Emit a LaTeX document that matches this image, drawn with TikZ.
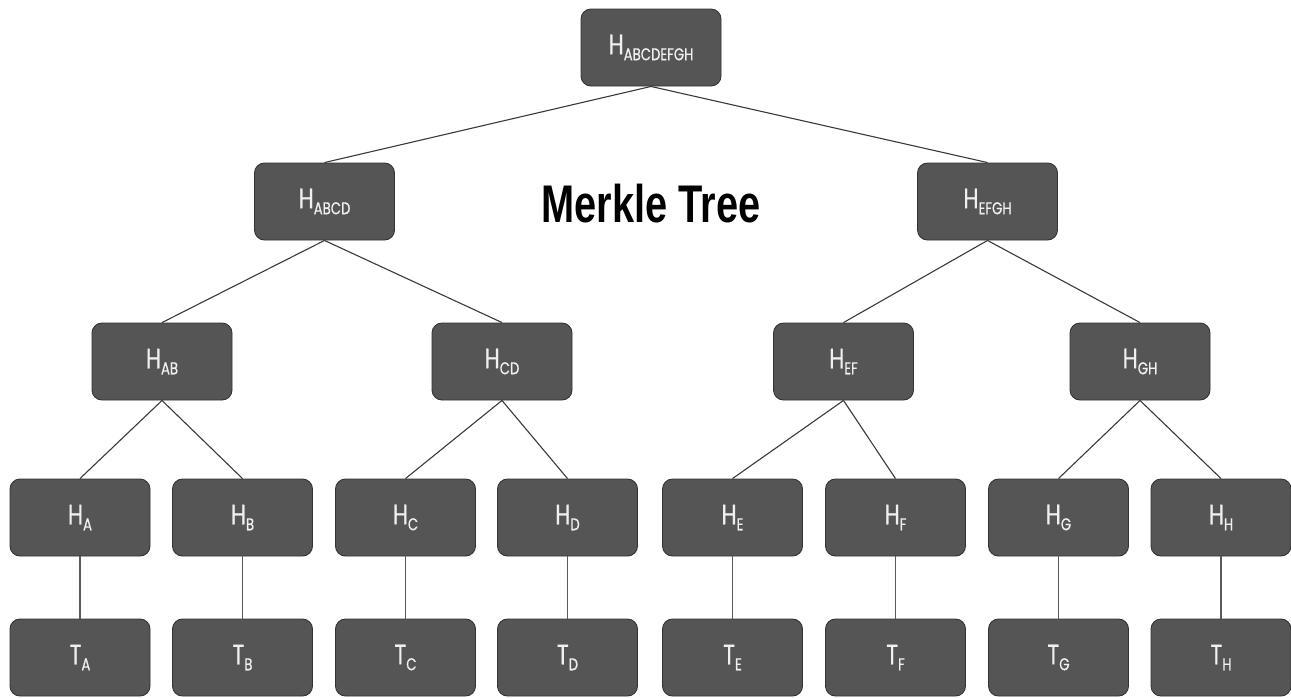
\documentclass[tikz,border=0pt]{standalone}
\usepackage{fontspec}
\usepackage{graphicx}
\newfontfamily\nodefont[FakeStretch=0.78,FakeBold=0.6]{Poppins}
\newfontfamily\titlefont[FakeStretch=0.75]{Liberation Sans}
\definecolor{boxfill}{HTML}{555555}
\definecolor{boxline}{HTML}{333333}
\definecolor{boxtext}{HTML}{F0F0F0}
\definecolor{edgecol}{HTML}{3A3A3A}
\definecolor{vedgecol}{HTML}{5A5A5A}
\newcommand\hsub[2]{#1\raisebox{-6pt}{\fontsize{17}{17}\selectfont #2}}
\tikzset{
  hbox/.style={draw=boxline, line width=0.9pt, fill=boxfill, rounded corners=10pt,
    minimum width=140pt, minimum height=77pt, inner sep=0pt, text=boxtext,
    font=\nodefont\fontsize{28}{28}\selectfont},
  treeedge/.style={draw=edgecol, line width=1.1pt},
  vedge/.style={draw=vedgecol, line width=1.3pt}
}
\begin{document}
\begin{tikzpicture}[x=1pt,y=-1pt]
\useasboundingbox (0,0) rectangle (1291,697);
\fill[white] (0,0) rectangle (1291,697);
% root
\node[hbox] (r) at (651,47.5) {\hsub{H}{ABCDEFGH}};
% level 1
\node[hbox] (abcd) at (324.5,201.5) {\hsub{H}{ABCD}};
\node[hbox] (efgh) at (987.5,201.5) {\hsub{H}{EFGH}};
% level 2
\node[hbox] (ab) at (162,361.5) {\hsub{H}{AB}};
\node[hbox] (cd) at (502,361.5) {\hsub{H}{CD}};
\node[hbox] (ef) at (843.5,361.5) {\hsub{H}{EF}};
\node[hbox] (gh) at (1140,361.5) {\hsub{H}{GH}};
% level 3
\node[hbox] (ha) at (80,517.5) {\hsub{H}{A}};
\node[hbox] (hb) at (242.5,517.5) {\hsub{H}{B}};
\node[hbox] (hc) at (405.5,517.5) {\hsub{H}{C}};
\node[hbox] (hd) at (567.5,517.5) {\hsub{H}{D}};
\node[hbox] (he) at (732.5,517.5) {\hsub{H}{E}};
\node[hbox] (hf) at (895.5,517.5) {\hsub{H}{F}};
\node[hbox] (hg) at (1058.5,517.5) {\hsub{H}{G}};
\node[hbox] (hh) at (1221,517.5) {\hsub{H}{H}};
% level 4
\node[hbox] (ta) at (80,657.5) {\hsub{T}{A}};
\node[hbox] (tb) at (242.5,657.5) {\hsub{T}{B}};
\node[hbox] (tc) at (405.5,657.5) {\hsub{T}{C}};
\node[hbox] (td) at (567.5,657.5) {\hsub{T}{D}};
\node[hbox] (te) at (732.5,657.5) {\hsub{T}{E}};
\node[hbox] (tf) at (895.5,657.5) {\hsub{T}{F}};
\node[hbox] (tg) at (1058.5,657.5) {\hsub{T}{G}};
\node[hbox] (th) at (1221,657.5) {\hsub{T}{H}};
% title
\node (title) at (651,204) {\titlefont\bfseries\fontsize{53}{53}\selectfont Merkle Tree};
% edges
\draw[treeedge] (r.south) -- (abcd.north);
\draw[treeedge] (r.south) -- (efgh.north);
\draw[treeedge] (abcd.south) -- (ab.north);
\draw[treeedge] (abcd.south) -- (cd.north);
\draw[treeedge] (efgh.south) -- (ef.north);
\draw[treeedge] (efgh.south) -- (gh.north);
\draw[treeedge] (ab.south) -- (ha.north);
\draw[treeedge] (ab.south) -- (hb.north);
\draw[treeedge] (cd.south) -- (hc.north);
\draw[treeedge] (cd.south) -- (hd.north);
\draw[treeedge] (ef.south) -- (he.north);
\draw[treeedge] (ef.south) -- (hf.north);
\draw[treeedge] (gh.south) -- (hg.north);
\draw[treeedge] (gh.south) -- (hh.north);
\draw[vedge] (ha) -- (ta);
\draw[vedge] (hb) -- (tb);
\draw[vedge] (hc) -- (tc);
\draw[vedge] (hd) -- (td);
\draw[vedge] (he) -- (te);
\draw[vedge] (hf) -- (tf);
\draw[vedge] (hg) -- (tg);
\draw[vedge] (hh) -- (th);
\end{tikzpicture}
\end{document}
